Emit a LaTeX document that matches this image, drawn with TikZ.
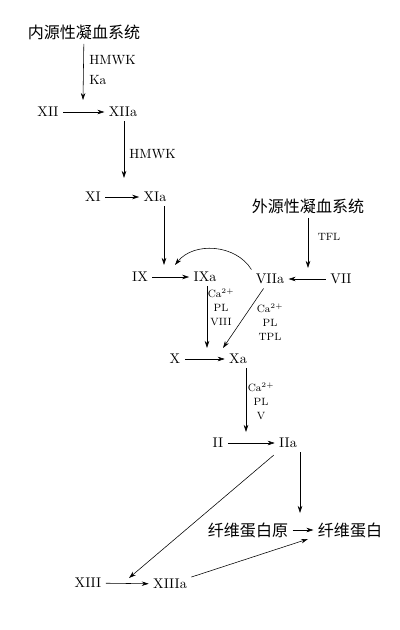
\documentclass[tikz,border=0pt]{standalone}
\usepackage{amsmath}
\usepackage{fontspec}
\newfontfamily\cjk{Noto Sans CJK SC}
\usetikzlibrary{arrows,arrows.meta}

\begin{document}
\begin{tikzpicture}[x=0.025cm, y=-0.025cm, thin, >={Stealth[length=5pt,width=3.2pt]}]
\useasboundingbox (0,0) rectangle (400,630);
\tikzstyle{every node} = [inner sep=3pt, font=\fontsize{10}{12}\selectfont]
\node (intr) at (84,32) {\cjk\fontsize{11.4}{12}\selectfont 内源性凝血系统};
\node (extr) at (308,206) {\cjk\fontsize{11.4}{12}\selectfont 外源性凝血系统};
\node (xii) at (48,112) {XII};
\node (xiia) at (123,112) {XIIa};
\node (xi) at (93,197) {XI};
\node (xia) at (155,197) {XIa};
\node (ix) at (140,277) {IX};
\node (ixa) at (205,277) {IXa};
\node (viia) at (270,279) {VIIa};
\node (vii) at (341,279) {VII};
\node (x) at (175,359) {X};
\node (xa) at (238,359) {Xa};
\node (ii) at (218,443) {II};
\node (iia) at (288,443) {IIa};
\node (fgn) at (248,530) {\cjk\fontsize{11.4}{12}\selectfont 纤维蛋白原};
\node (fib) at (350,530) {\cjk\fontsize{11.4}{12}\selectfont 纤维蛋白};
\node (xiii) at (88,583) {XIII};
\node (xiiia) at (170,584) {XIIIa};
% ends of the arrows that point at a reaction
\coordinate (k1) at (83,100);
\coordinate (k2) at (124,178);
\coordinate (k3) at (164,265);
\coordinate (k4) at (308,268);
\coordinate (k5) at (175,265);
\coordinate (k6) at (207,348);
\coordinate (k7) at (223,348);
\coordinate (k8) at (246,432);
\coordinate (k9) at (300,513);
\coordinate (k10) at (129,578);
\coordinate (k11) at (308,539);
% cofactors
\tikzstyle{every node} = [inner sep=0pt, align=left, anchor=west, font=\fontsize{9.5}{12}\selectfont]
\node (hk1) at (89,60) {HMWK};
\node (ka) at (89,80) {Ka};
\node (hk2) at (129,154) {HMWK};
\tikzstyle{every node} = [inner sep=0pt, align=center, font=\fontsize{7.5}{10}\selectfont]
\node (tfl) at (329,237) {TFL};
\node (cf9) at (221,307) {Ca$^{2+}$\\PL\\VIII};
\node (cf7) at (270,322) {Ca$^{2+}$\\PL\\TPL};
\node (cf10) at (261,401) {Ca$^{2+}$\\PL\\V};
% conversions
\draw[->] (xii) -- (xiia);
\draw[->] (xi) -- (xia);
\draw[->] (ix) -- (ixa);
\draw[->] (vii) -- (viia);
\draw[->] (x) -- (xa);
\draw[->] (ii) -- (iia);
\draw[->] (fgn) -- (fib);
\draw[->] (xiii) -- (xiiia);
% activations
\draw[->] (intr) -- (k1);
\draw[->] (xiia.south -| k2) -- (k2);
\draw[->] (xia.south -| k3) -- (k3);
\draw[->] (extr) -- (k4);
\draw[->] (viia.north west) to [bend right=55] (k5);
\draw[->] (ixa.south -| k6) -- (k6);
\draw[->] (viia) -- (k7);
\draw[->] (xa.south -| k8) -- (k8);
\draw[->] (iia.south -| k9) -- (k9);
\draw[->, shorten <=3pt] (iia) -- (k10);
\draw[->] (xiiia) -- (k11);
\end{tikzpicture}
\end{document}
